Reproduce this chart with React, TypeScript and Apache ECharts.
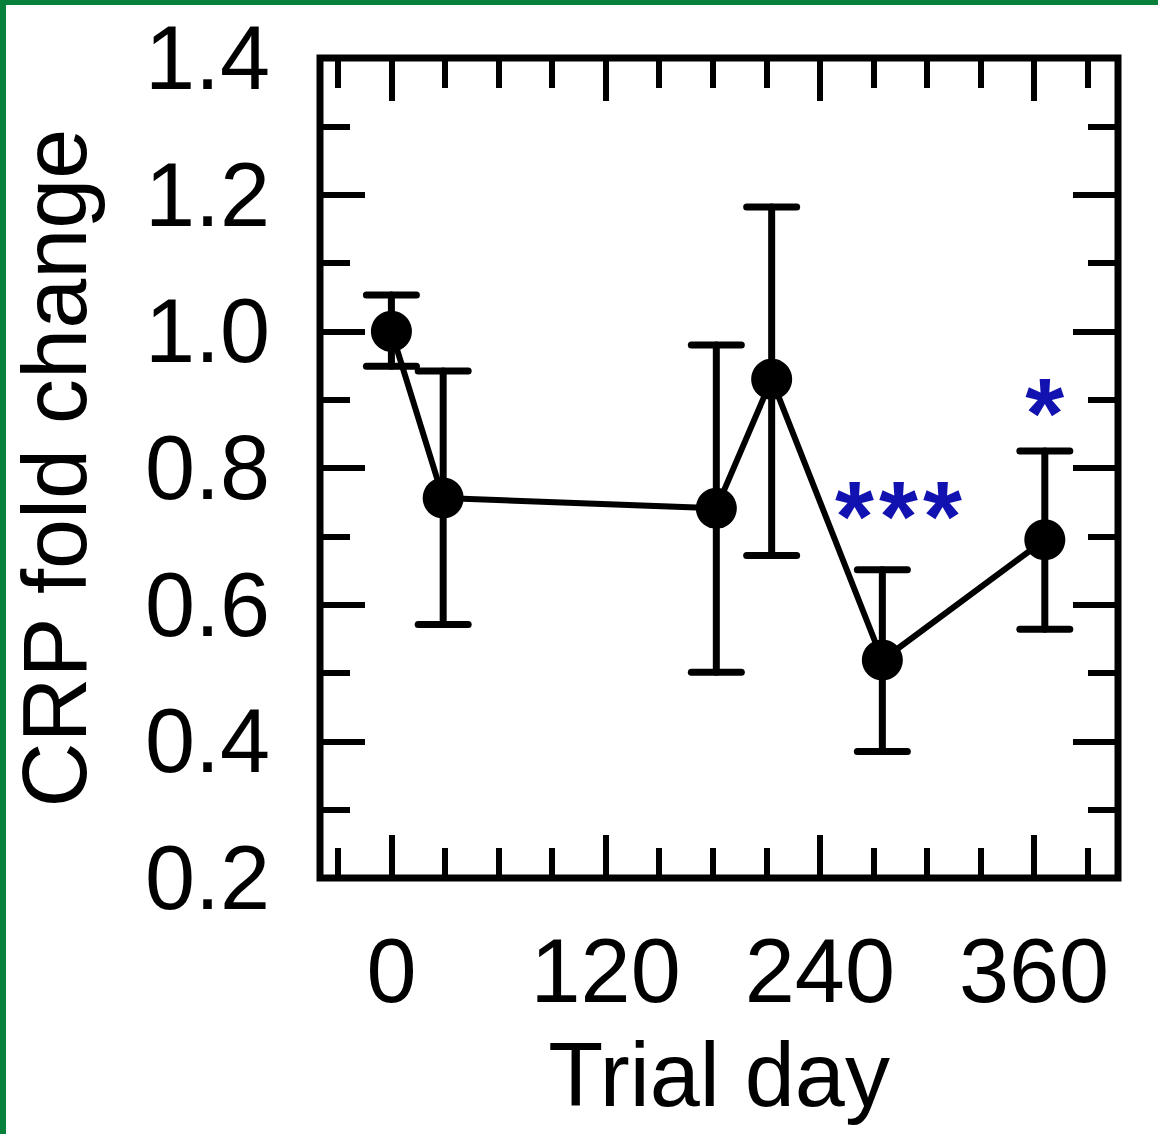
import React, { useEffect, useRef } from "react";
import * as echarts from "echarts";

// Data
const days = [0, 29, 182, 213, 275, 366];
const means = [1.0, 0.756, 0.741, 0.93, 0.519, 0.695];
const lows = [0.949, 0.571, 0.501, 0.672, 0.385, 0.564];
const highs = [1.053, 0.942, 0.98, 1.182, 0.651, 0.825];

const xMajorTicks = [0, 120, 240, 360];
const xMinorTicks = [-30, 30, 60, 90, 150, 180, 210, 270, 300, 330, 390];

const starDays = [284, 366];
const starValues = [0.73, 0.88];
const starLabels = ["***", "*"];

const FONT = "'Liberation Sans', Arial, Helvetica, sans-serif";
const GREEN = "#07803b";
const STAR = "#1212b0";

export default function App() {
  const ref = useRef<HTMLDivElement>(null);

  useEffect(() => {
    document.body.style.margin = "0";
    const chart = echarts.init(ref.current!, null, { renderer: "svg" });

    const tickStyle = { color: "#000", width: 6 };
    const xBase = {
      type: "value",
      min: -40,
      max: 407,
      axisLine: { show: false, onZero: false },
      splitLine: { show: false },
    };
    const yBase = {
      type: "value",
      min: 0.2,
      max: 1.4,
      interval: 0.2,
      axisLine: { show: false, onZero: false },
      splitLine: { show: false },
      axisTick: { show: true, inside: true, length: 45, lineStyle: tickStyle },
      minorTick: { show: true, splitNumber: 2, length: 30, lineStyle: tickStyle },
    };

    const mainData = days.map((d, i) => [d, means[i]]);
    const errData = days.map((d, i) => [d, means[i], lows[i], highs[i]]);
    const starData = starDays.map((d, i) => ({ value: [d, starValues[i]], name: starLabels[i] }));

    chart.setOption({
      animation: false,
      backgroundColor: "#ffffff",
      grid: {
        left: 320,
        top: 58,
        width: 798,
        height: 820,
        show: true,
        borderColor: "#000",
        borderWidth: 7,
        backgroundColor: "transparent",
      },
      xAxis: [
        {
          ...xBase,
          position: "bottom",
          name: "Trial day",
          nameLocation: "middle",
          nameGap: 152,
          nameTextStyle: { fontFamily: FONT, fontSize: 90, color: "#000" },
          axisTick: { show: true, inside: true, length: 43, customValues: xMajorTicks, lineStyle: tickStyle },
          axisLabel: {
            show: true,
            customValues: xMajorTicks,
            margin: 48,
            fontFamily: FONT,
            fontSize: 90,
            color: "#000",
          },
        },
        {
          ...xBase,
          position: "bottom",
          axisTick: { show: true, inside: true, length: 30, customValues: xMinorTicks, lineStyle: tickStyle },
          axisLabel: { show: false },
        },
        {
          ...xBase,
          position: "top",
          axisTick: { show: true, inside: true, length: 43, customValues: xMajorTicks, lineStyle: tickStyle },
          axisLabel: { show: false },
        },
        {
          ...xBase,
          position: "top",
          axisTick: { show: true, inside: true, length: 30, customValues: xMinorTicks, lineStyle: tickStyle },
          axisLabel: { show: false },
        },
      ],
      yAxis: [
        {
          ...yBase,
          position: "left",
          name: "CRP fold change",
          nameLocation: "middle",
          nameGap: 220,
          nameTextStyle: { fontFamily: FONT, fontSize: 90, color: "#000" },
          axisLabel: {
            show: true,
            margin: 50,
            fontFamily: FONT,
            fontSize: 90,
            color: "#000",
            formatter: (v: number) => v.toFixed(1),
          },
        },
        {
          ...yBase,
          position: "right",
          axisLabel: { show: false },
        },
      ],
      graphic: [
        { type: "rect", left: 0, top: 0, shape: { width: 6, height: 1134 }, style: { fill: GREEN }, z: 100 },
        { type: "rect", left: 0, top: 0, shape: { width: 1158, height: 5 }, style: { fill: GREEN }, z: 100 },
      ],
      series: [
        {
          type: "custom",
          xAxisIndex: 0,
          yAxisIndex: 0,
          data: errData,
          z: 3,
          renderItem: (params: any, api: any) => {
            const x = api.value(0);
            const lo = api.coord([x, api.value(2)]);
            const hi = api.coord([x, api.value(3)]);
            const hw = 25;
            const style = { stroke: "#000", lineWidth: 7, lineCap: "round" };
            return {
              type: "group",
              children: [
                { type: "line", shape: { x1: hi[0], y1: hi[1], x2: lo[0], y2: lo[1] }, style },
                { type: "line", shape: { x1: hi[0] - hw, y1: hi[1], x2: hi[0] + hw, y2: hi[1] }, style },
                { type: "line", shape: { x1: lo[0] - hw, y1: lo[1], x2: lo[0] + hw, y2: lo[1] }, style },
              ],
            };
          },
        },
        {
          type: "line",
          xAxisIndex: 0,
          yAxisIndex: 0,
          data: mainData,
          symbol: "circle",
          symbolSize: 41,
          z: 4,
          lineStyle: { color: "#000", width: 6 },
          itemStyle: { color: "#000" },
        },
        {
          type: "scatter",
          xAxisIndex: 0,
          yAxisIndex: 0,
          data: starData,
          symbolSize: 0,
          z: 5,
          itemStyle: { opacity: 1, color: STAR },
          label: {
            show: true,
            position: "inside",
            formatter: (p: any) =>
              p.name
                .split("")
                .map((c: string) => "{s|" + c + "}")
                .join(""),
            rich: {
              s: {
                width: 44,
                align: "center",
                fontFamily: FONT,
                fontSize: 100,
                fontWeight: "bold",
                color: STAR,
              },
            },
            opacity: 1,
          },
        },
      ],
    });

    return () => chart.dispose();
  }, []);

  return <div ref={ref} style={{ width: 1158, height: 1134 }} />;
}
